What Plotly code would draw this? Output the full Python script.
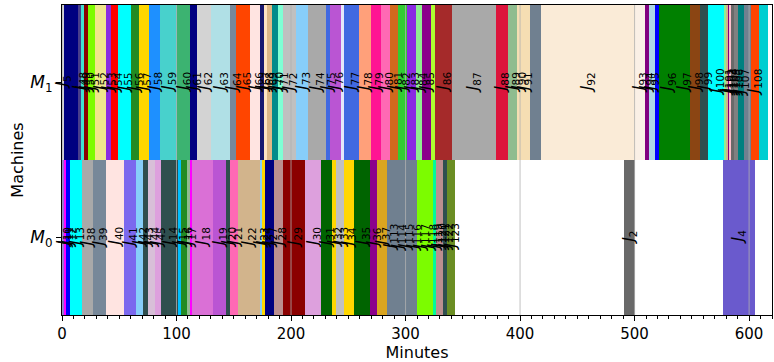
import plotly.graph_objects as go

# ---------------- data ----------------
# Machine M1 (top row): start, end (minutes), colour, job label
m1_start = [0, 1.5, 13.8, 16.2, 19.6, 23.1, 28.4, 38.6, 43.0, 49.3, 60.4, 67.0, 75.8,
            85.2, 100.3, 111.4, 118.1, 130.3, 146.3, 152.1, 164.4, 173.1, 176.2, 178.9,
            183.6, 188.5, 193.4, 204.5, 214.7, 230.1, 233.6, 243.2, 246.1, 259.0, 269.4,
            278.2, 286.6, 293.3, 301.5, 308.7, 314.6, 321.8, 325.3, 340.4, 378.6, 389.3,
            397.2, 399.5, 408.3, 417.9, 500.0, 508.7, 512.2, 517.5, 521.2, 537.0, 548.6,
            557.4, 564.0, 578.6, 580.1, 582.1, 583.2, 584.5, 586.5, 590.2, 595.5, 601.3,
            608.3]
m1_end = [1.5, 13.8, 16.2, 19.6, 23.1, 28.4, 38.6, 43.0, 49.3, 60.4, 67.0, 75.8, 85.2,
          100.3, 111.4, 118.1, 130.3, 146.3, 152.1, 164.4, 173.1, 176.2, 178.9, 183.6,
          188.5, 193.4, 204.5, 214.7, 230.1, 233.6, 243.2, 246.1, 259.0, 269.4, 278.2,
          286.6, 293.3, 301.5, 308.7, 314.6, 321.8, 325.3, 340.4, 378.6, 389.3, 397.2,
          399.5, 408.3, 417.9, 500.0, 508.7, 512.2, 517.5, 521.2, 537.0, 548.6, 557.4,
          564.0, 578.6, 580.1, 582.1, 583.2, 584.5, 586.5, 590.2, 595.5, 601.3, 608.3,
          616.4]
m1_colors = ["lightgray", "navy", "darkslateblue", "turquoise", "darkred", "lawngreen",
             "khaki", "blueviolet", "red", "cyan", "forestgreen", "gold", "dodgerblue",
             "mediumturquoise", "mediumseagreen", "navy", "lightgray", "powderblue",
             "lightslategray", "orangered", "mistyrose", "midnightblue", "bisque",
             "burlywood", "darkcyan", "aquamarine", "silver", "lightskyblue", "darkgray",
             "royalblue", "mediumorchid", "lavender", "royalblue", "lightsalmon",
             "deeppink", "hotpink", "chocolate", "limegreen", "blueviolet", "lightgreen",
             "darkmagenta", "greenyellow", "brown", "darkgray", "crimson", "darkseagreen",
             "wheat", "wheat", "slategray", "antiquewhite", "linen", "purple", "lightblue",
             "blue", "green", "green", "saddlebrown", "darkslategray", "cyan", "lightgreen",
             "tan", "purple", "pink", "dimgray", "gray", "teal", "slategray", "orangered",
             "darkturquoise"]
m1_jobs = [5, None, 48, 49, 50, 51, 52, 53, 54, 55, 56, 57, 58,
           59, 60, 61, 62, 63, 64, 65, 66, 67, 68, 69,
           70, 71, 72, 73, 74, 75, 76, None, 77, 78, 79,
           80, 81, 82, 83, 84, 85, None, 86, 87, 88, 89,
           90, 91, None, 92, 93, 94, 95, None, 96, 97, 98,
           99, 100, 101, 102, 103, 104, 105, 106, 107, None, 108,
           None]

# Machine M0 (bottom row)
m0_start = [0, 2.2, 3.7, 7.4, 17.6, 27.5, 38.6, 54.0, 64.2, 70.6, 75.0, 80.8, 86.1,
            101.1, 104.1, 109.0, 112.0, 113.4, 131.7, 143.4, 146.9, 153.5, 172.5, 174.5,
            177.5, 184.7, 193.4, 212.5, 226.3, 235.6, 239.5, 246.1, 254.8, 269.2, 275.3,
            283.7, 290.2, 296.8, 303.3, 309.9, 316.9, 323.9, 326.9, 329.8, 332.7, 336.5,
            490.4, 576.9]
m0_end = [2.2, 3.7, 7.4, 17.6, 27.5, 38.6, 54.0, 64.2, 70.6, 75.0, 80.8, 86.1, 101.1,
          104.1, 109.0, 112.0, 113.4, 131.7, 143.4, 146.9, 153.5, 172.5, 174.5, 177.5,
          184.7, 193.4, 212.5, 226.3, 235.6, 239.5, 246.1, 254.8, 269.2, 275.3, 283.7,
          290.2, 296.8, 303.3, 309.9, 316.9, 323.9, 326.9, 329.8, 332.7, 336.5, 342.9,
          500.0, 605.0]
m0_colors = ["mediumpurple", "magenta", "blue", "cyan", "darkgray", "lightslategray",
             "mistyrose", "mediumslateblue", "lightskyblue", "darkslategray", "thistle",
             "plum", "darkslategray", "deepskyblue", "forestgreen", "darkseagreen",
             "magenta", "orchid", "mediumorchid", "darkslategray", "hotpink", "tan",
             "lightskyblue", "gold", "navy", "rosybrown", "darkred", "plum", "darkgreen",
             "gold", "silver", "gold", "darkgreen", "darkmagenta", "goldenrod",
             "slategray", "slategray", "slategray", "slategray", "lawngreen", "lawngreen",
             "mediumspringgreen", "rosybrown", "rosybrown", "darkslategray", "olivedrab",
             "dimgray", "slateblue"]
m0_jobs = [10, 11, 12, 13, 38, 39, 40, 41, 42, 43, 44, 45, 14,
           15, 16, 17, None, 18, 19, 20, 21, 22, 23, 24,
           27, 28, 29, 30, 31, 32, 33, 34, 35, 36, 37,
           113, 114, 115, 116, 117, 118, 119, 120, 121, 122, 123,
           2, 4]

machines = ["M0", "M1"]
x_ticks = [0, 100, 200, 300, 400, 500, 600]

# ---------------- figure ----------------
fig = go.Figure()
rows = [(0, m0_start, m0_end, m0_colors, m0_jobs),
        (1, m1_start, m1_end, m1_colors, m1_jobs)]
annotations = []
for yi, st, en, cols, jobs in rows:
    dur = [e - s for s, e in zip(st, en)]
    fig.add_trace(go.Bar(
        orientation="h", base=st, x=dur, y=[yi] * len(st), width=1.0,
        marker=dict(color=cols, line=dict(width=0)), showlegend=False,
        hoverinfo="skip"))
    for s, d, j in zip(st, dur, jobs):
        if j is None:
            continue
        annotations.append(dict(
            x=s + d / 2, y=yi, xref="x", yref="y",
            text="<i>J</i><sub>%d</sub>" % j, textangle=-90, showarrow=False,
            font=dict(family="DejaVu Sans", size=15, color="black")))

# vertical grid lines drawn above the bars, at the major ticks
shapes = [dict(type="line", xref="x", yref="paper", x0=v, x1=v, y0=0, y1=1,
               line=dict(color="#b0b0b0", width=0.8), layer="above")
          for v in x_ticks]

fig.update_layout(
    width=774, height=362,
    margin=dict(l=62, r=2, t=5, b=47),
    paper_bgcolor="white", plot_bgcolor="white",
    barmode="overlay", bargap=0,
    annotations=annotations, shapes=shapes,
    font=dict(family="DejaVu Sans", color="black"),
)
fig.update_xaxes(
    range=[0, 620], tickvals=x_ticks, ticktext=[str(v) for v in x_ticks],
    showgrid=False,
    showline=True, mirror=True, linecolor="black", linewidth=1,
    ticks="outside", ticklen=5, tickcolor="black",
    minor=dict(dtick=10, tick0=0, ticks="outside", ticklen=3, tickcolor="black",
               showgrid=False),
    tickfont=dict(size=15, family="DejaVu Sans"),
    title=dict(text="Minutes", font=dict(size=16, family="DejaVu Sans"), standoff=1),
    zeroline=False, layer="above traces",
)
fig.update_yaxes(
    range=[-0.5, 1.5], tickvals=[0, 1],
    ticktext=["<i>M</i><sub>0</sub>", "<i>M</i><sub>1</sub>"],
    showgrid=False, showline=True, mirror=True, linecolor="black", linewidth=1,
    ticks="outside", ticklen=5, tickcolor="black",
    tickfont=dict(size=17, family="DejaVu Sans"),
    title=dict(text="Machines", font=dict(size=16, family="DejaVu Sans"), standoff=2),
    zeroline=False, layer="above traces",
)

fig.write_html("out.html")
